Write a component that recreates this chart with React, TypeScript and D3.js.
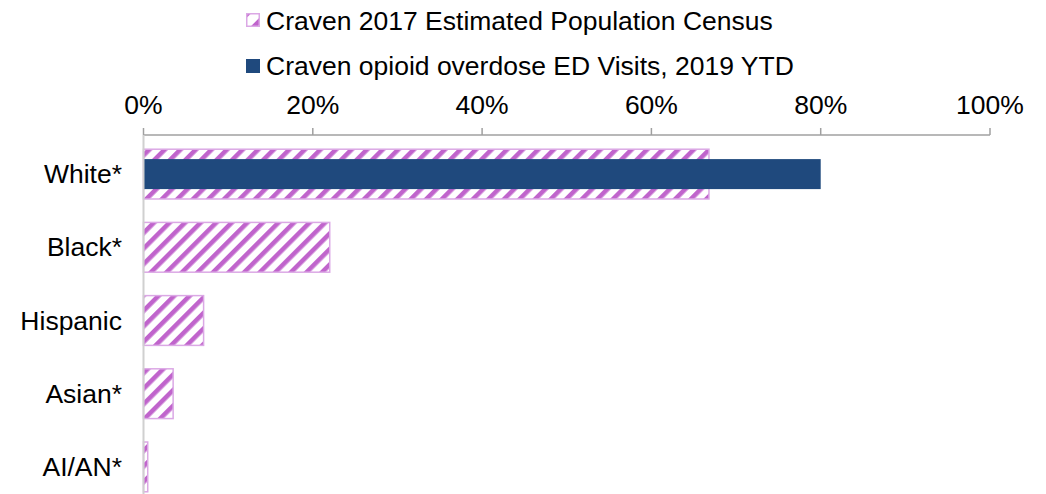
import React from "react";
import * as d3 from "d3";

const categories = ["White*", "Black*", "Hispanic", "Asian*", "AI/AN*"];
const censusValues = [0.668, 0.22, 0.071, 0.035, 0.005];
const edValues = [0.8, 0, 0, 0, 0];
const tickValues = [0, 0.2, 0.4, 0.6, 0.8, 1.0];
const seriesNames = [
  "Craven 2017 Estimated Population Census",
  "Craven opioid overdose ED Visits, 2019 YTD",
];

const W = 1046;
const H = 494;
const FONT = "'Liberation Sans', Arial, sans-serif";
const NAVY = "#1f497d";
const STRIPE = "#c064cc";
const BORDER = "#dba8e5";

export default function App() {
  const x = d3.scaleLinear().domain([0, 1]).range([143.5, 990]);
  const y = d3.scaleBand<string>().domain(categories).range([137.5, 503.5]).paddingInner(0.32).paddingOuter(0.16);
  const censusH = y.bandwidth();
  const edH = 30;
  const axisY = 135;
  const fmt = d3.format(".0%");

  return (
    <svg
      width={W}
      height={H}
      style={{ position: "absolute", left: 0, top: 0, background: "#fff" }}
      fontFamily={FONT}
    >
      <defs>
        <pattern id="hatch" patternUnits="userSpaceOnUse" width={11} height={11} patternTransform="rotate(45)">
          <rect x={0} y={0} width={11} height={11} fill="#fff" />
          <rect x={0} y={0} width={4.6} height={11} fill={STRIPE} />
        </pattern>
        <pattern id="hatchSmall" patternUnits="userSpaceOnUse" width={14} height={14} patternTransform="rotate(45)">
          <rect x={0} y={0} width={14} height={14} fill="#fff" />
          <rect x={0} y={0} width={5} height={14} fill={STRIPE} />
        </pattern>
      </defs>

      {/* Legend */}
      <g>
        <rect x={246.75} y={13.75} width={12.5} height={12.5} fill="url(#hatchSmall)" stroke={BORDER} strokeWidth={1.5} />
        <text x={266} y={21} dominantBaseline="central" fontSize={26.5} fill="#000">
          {seriesNames[0]}
        </text>
        <rect x={246} y={59} width={14} height={14} fill={NAVY} />
        <text x={266} y={66} dominantBaseline="central" fontSize={26.5} fill="#000">
          {seriesNames[1]}
        </text>
      </g>

      {/* X axis at top */}
      <g>
        <line x1={x(0)} x2={x(1)} y1={axisY} y2={axisY} stroke="#a0a0a0" strokeWidth={1.5} />
        {tickValues.map((t) => (
          <g key={t}>
            <line x1={x(t)} x2={x(t)} y1={axisY} y2={axisY - 7} stroke="#a0a0a0" strokeWidth={1.5} />
            <text x={x(t)} y={105} textAnchor="middle" dominantBaseline="central" fontSize={26.5} fill="#000">
              {fmt(t)}
            </text>
          </g>
        ))}
      </g>

      {/* Bars */}
      {categories.map((c, i) => {
        const y0 = y(c) as number;
        const cy = y0 + censusH / 2;
        return (
          <g key={c}>
            {censusValues[i] > 0 && (
              <rect
                x={x(0)}
                y={y0}
                width={x(censusValues[i]) - x(0)}
                height={censusH}
                fill="url(#hatch)"
                stroke={BORDER}
                strokeWidth={1.5}
              />
            )}
            {edValues[i] > 0 && (
              <rect x={x(0)} y={cy - edH / 2} width={x(edValues[i]) - x(0)} height={edH} fill={NAVY} />
            )}
            <text x={122} y={cy} textAnchor="end" dominantBaseline="central" fontSize={26.5} fill="#000">
              {c}
            </text>
          </g>
        );
      })}

      {/* Vertical category axis */}
      <line x1={x(0)} x2={x(0)} y1={axisY} y2={H} stroke="#d0d0d0" strokeWidth={2} />
    </svg>
  );
}
